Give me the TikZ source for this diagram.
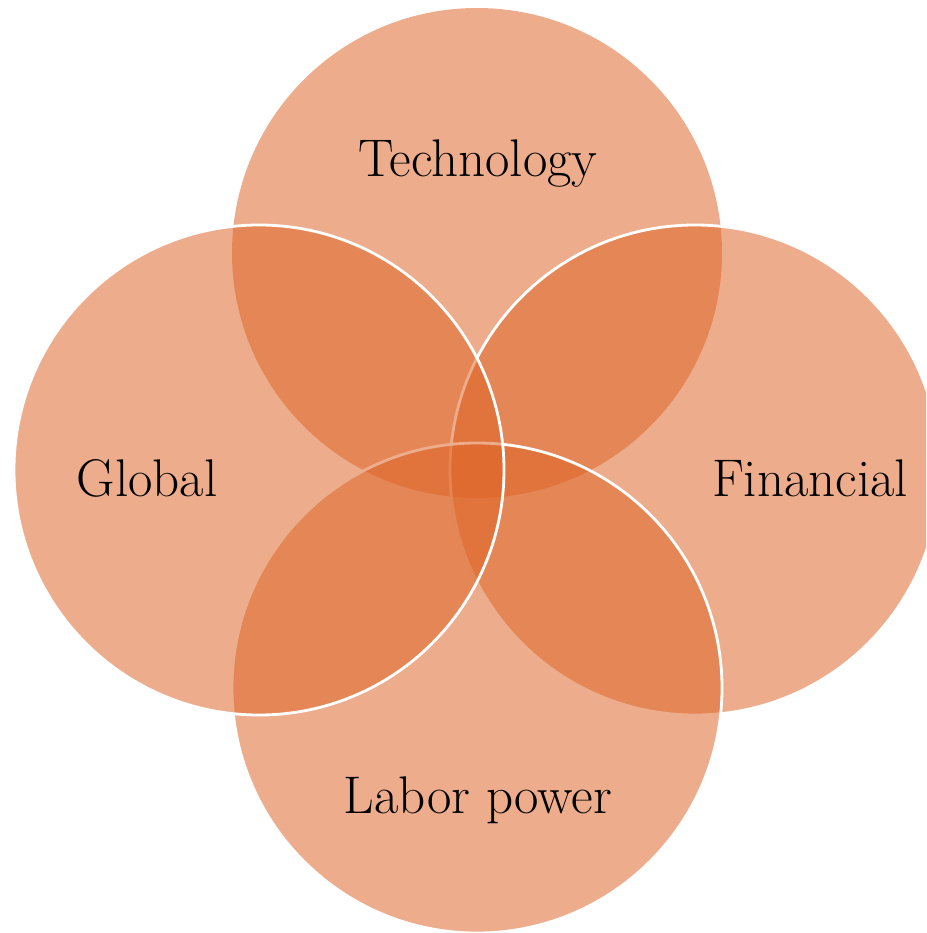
\documentclass[tikz,border=0pt]{standalone}
\definecolor{venn}{RGB}{221,100,38}
\begin{document}
\begin{tikzpicture}[x=1pt,y=-1pt,
  vcirc/.style={circle,minimum size=490pt,inner sep=0pt,fill=venn,fill opacity=0.53,draw=white,line width=2.8pt},
  vlabel/.style={font=\fontsize{53}{62}\selectfont,text=black,inner sep=0pt,anchor=base}]
\useasboundingbox (0,0) rectangle (926,933);
\clip (0,0) rectangle (926,933);
\node[vcirc,draw=none] (tech) at (477,253) {};
\node[vcirc] (fin) at (695,470) {};
\node[vcirc] (lab) at (477,688) {};
\node[vcirc] (glob) at (259,470) {};
\node[vlabel] (tTech) at (478,177) {Technology};
\node[vlabel] (tGlob) at (147,496) {Global};
\node[vlabel] (tFin) at (810,496) {Financial};
\node[vlabel] (tLab) at (478,813) {Labor power};
\end{tikzpicture}
\end{document}
